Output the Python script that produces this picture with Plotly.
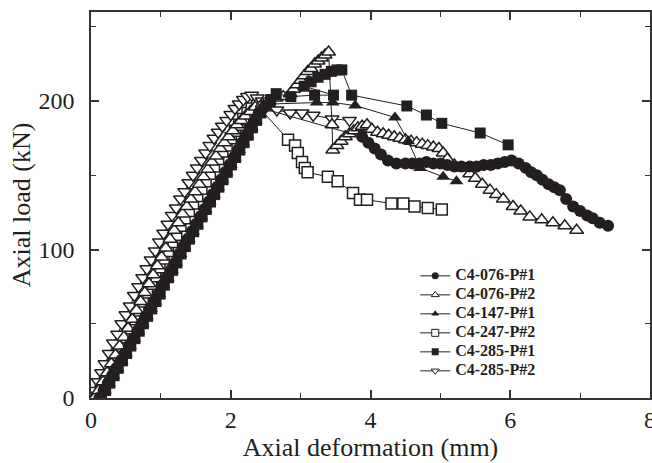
import plotly.graph_objects as go

# ---- data ----
# C4-076-P#1 (filled circles)
c1_x = [0.12,0.18,0.24,0.30,0.36,0.42,0.48,0.54,0.60,0.66,0.72,0.78,0.84,0.90,0.96,1.02,1.08,1.14,1.20,1.26,1.32,1.38,1.44,1.50,1.56,1.62,1.68,1.74,1.80,1.86,1.92,1.98,2.04,2.10,2.16,2.22,2.28,2.34,2.40,2.46,
        3.88,3.97,4.06,4.15,4.25,4.37,4.50,4.60,4.70,4.80,4.90,5.00,5.10,5.20,5.30,5.42,5.52,5.62,5.72,5.82,5.92,6.02,6.12,6.22,6.30,6.38,6.46,6.55,6.63,6.71,6.80,6.90,7.00,7.10,7.18,7.28,7.40]
c1_y = [0,5,10,15,20,25,30,35,40,45,50,55,60,65,70,76,81,86,91,97,102,107,112,117,122,127,132,137,142,147,152,157,162,167,172,177,182,187,192,195,
        176,172,168,164,160,158,158,158,158,159,158,158,157,156,156,156,156,157,157,158,159,160,158,155,152,150,147,144,142,140,134,129,126,123,121,118,116]

# C4-076-P#2 (open triangles)
c2_x = [0.05,0.11,0.17,0.23,0.29,0.35,0.41,0.47,0.53,0.59,0.65,0.71,0.77,0.83,0.89,0.95,1.01,1.07,1.13,1.19,1.25,1.31,1.37,1.43,1.49,1.55,1.61,1.67,1.73,1.79,1.85,1.91,1.97,2.03,2.09,2.15,2.21,2.28,2.35,2.45,2.55,2.65,2.75,
        2.85,2.90,2.95,3.00,3.05,3.10,3.15,3.20,3.25,3.30,3.35,3.40,3.45,3.46,3.52,3.58,3.64,3.70,3.76,3.82,3.88,3.95,4.02,4.10,4.18,4.26,4.34,4.42,4.50,4.58,4.66,4.74,4.82,4.90,4.98,5.04,5.10,5.20,5.30,5.42,5.50,5.60,5.71,5.80,5.90,6.04,6.15,6.28,6.45,6.61,6.78,6.95]
c2_y = [0,5,11,17,23,29,35,41,47,53,59,65,71,77,83,89,95,101,107,113,118,124,129,134,139,144,149,154,159,163,168,172,176,180,184,187,190,193,196,198,200,202,203,
        205,208,211,214,217,220,222,225,227,229,231,233,184,167,170,173,176,178,180,182,183,184,181,179,178,177,176,175,174,173,172,171,170,169,168,165,161,157,155,151,148,144,140,137,134,129,126,122,120,118,116,113]

# C4-147-P#1 (filled triangles)
c3_x = [0.14,0.20,0.26,0.32,0.38,0.44,0.50,0.56,0.62,0.68,0.74,0.80,0.86,0.92,0.98,1.04,1.10,1.16,1.22,1.28,1.34,1.40,1.46,1.52,1.58,1.64,1.70,1.76,1.82,1.88,1.94,2.00,2.06,2.12,2.18,2.24,2.30,2.36,2.42,2.49,2.56,
        3.23,3.46,3.78,4.35,4.54,4.71,5.04,5.23]
c3_y = [0,5,10,15,20,25,30,35,40,45,50,55,60,65,70,76,81,86,91,97,102,107,112,117,122,127,132,137,142,147,152,157,162,167,172,177,182,187,191,195,198,
        199,199,197,189,173,155,149,146]

# C4-247-P#2 (open squares)
c4_x = [0.08,0.14,0.20,0.26,0.32,0.38,0.44,0.50,0.56,0.62,0.68,0.74,0.80,0.86,0.92,0.98,1.04,1.10,1.16,1.22,1.28,1.34,1.40,1.46,1.52,1.58,1.64,1.70,1.76,1.82,1.88,1.94,2.00,2.06,2.12,2.18,2.24,2.30,2.38,
        2.82,2.92,2.96,3.02,3.06,3.10,3.39,3.53,3.75,3.85,3.95,4.30,4.47,4.63,4.82,5.02]
c4_y = [0,5,11,17,23,29,35,41,47,53,59,65,71,77,82,88,94,99,105,110,116,121,126,131,136,141,146,151,156,161,166,170,175,180,184,188,192,195,197,
        174,170,165,159,155,152,149,146,138,133.5,133.5,131,131,129,128,127]

# C4-285-P#1 (filled squares)
c5_x = [0.15,0.21,0.27,0.33,0.39,0.45,0.51,0.57,0.63,0.69,0.75,0.81,0.87,0.93,0.99,1.05,1.11,1.17,1.23,1.29,1.35,1.41,1.47,1.53,1.59,1.65,1.71,1.77,1.83,1.89,1.95,2.01,2.07,2.13,2.19,2.25,2.31,2.37,2.43,2.50,2.57,2.65,
        2.86,3.20,3.47,3.05,3.15,3.25,3.35,3.44,3.52,3.59,3.73,4.52,4.80,5.02,5.57,5.97]
c5_y = [0,5,10,15,20,25,30,35,40,45,50,55,60,65,70,76,81,86,91,97,102,107,112,117,122,127,132,137,142,147,152,157,162,167,172,177,182,187,192,197,201,205,
        203,204,204,210,213,216,218,220,221,221,204,196.7,190.6,185,178.5,170.5]

# C4-285-P#2 (open down-triangles)
c6_x = [0.00,0.05,0.10,0.15,0.20,0.26,0.32,0.38,0.44,0.50,0.56,0.62,0.68,0.74,0.80,0.86,0.92,0.98,1.04,1.10,1.16,1.22,1.28,1.34,1.40,1.46,1.52,1.58,1.64,1.70,1.76,1.82,1.88,1.94,2.00,2.06,2.12,2.18,2.24,2.30,2.38,2.45,
        2.66,2.85,3.02,3.18,3.45,3.70]
c6_y = [0,5,11,17,23,30,37,43,50,56,62,69,75,81,87,93,99,105,111,117,123,128,134,139,145,150,155,160,165,170,175,179,183,187,191,195,198,201,203,204,202,200,
        194,192,192,190.5,188,187]

names = ["C4-076-P#1", "C4-076-P#2", "C4-147-P#1", "C4-247-P#2", "C4-285-P#1", "C4-285-P#2"]
xs = [c1_x, c2_x, c3_x, c4_x, c5_x, c6_x]
ys = [c1_y, c2_y, c3_y, c4_y, c5_y, c6_y]
symbols = ["circle", "triangle-up-open", "triangle-up", "square-open", "square", "triangle-down-open"]
sizes = [12, 12, 12, 11, 11, 12]
leg_sizes = [7, 7, 7, 7, 7, 7]

INK = "#231f20"
fig = go.Figure()
order = [3, 5, 1, 0, 2, 4]
for i in order:
    sym = symbols[i]
    hollow = sym.endswith("-open")
    base = sym.replace("-open", "")
    fig.add_trace(go.Scatter(
        x=xs[i], y=ys[i], mode="lines+markers", showlegend=False,
        line=dict(color=INK, width=1),
        marker=dict(symbol=base, size=sizes[i],
                    color="white" if hollow else INK,
                    line=dict(color=INK, width=1.5 if hollow else 0)),
    ))
for i in range(6):
    sym = symbols[i]
    hollow = sym.endswith("-open")
    base = sym.replace("-open", "")
    fig.add_trace(go.Scatter(
        x=[None], y=[None], mode="lines+markers",
        name='<span style="font-size:16px">' + names[i] + '</span>',
        line=dict(color=INK, width=1),
        marker=dict(symbol=base, size=leg_sizes[i],
                    color="white" if hollow else INK,
                    line=dict(color=INK, width=1 if hollow else 0)),
    ))

FONT = "Liberation Serif"
axis_common = dict(
    showline=True, linecolor="#333333", linewidth=1.5, mirror="ticks",
    ticks="inside", tickcolor="#333333", tickwidth=1.5,
    showgrid=False, zeroline=False, automargin=False,
    tickfont=dict(family=FONT, size=24, color=INK),
    ticklabeloverflow="allow",
    minor=dict(ticks="inside", ticklen=5, tickcolor="#333333", tickwidth=1.2, showgrid=False),
)
fig.update_layout(
    width=652, height=463,
    margin=dict(l=91, r=2, t=12, b=65),
    paper_bgcolor="white", plot_bgcolor="white",
    hovermode=False,
    font=dict(family=FONT, color=INK),
    xaxis=dict(range=[0, 8], dtick=2, ticklen=8, ticklabelstandoff=-1,
               title=dict(text="Axial deformation (mm)", font=dict(family=FONT, size=26, color=INK), standoff=6),
               minor_dtick=1, **axis_common),
    yaxis=dict(range=[0, 260], dtick=100, ticklen=8, ticklabelstandoff=10,
               title=dict(text="Axial load (kN)", font=dict(family=FONT, size=26, color=INK), standoff=0),
               minor_dtick=50, **axis_common),
    legend=dict(x=0.580, y=0.354, xanchor="left", yanchor="top",
                font=dict(family=FONT, size=11, color=INK, weight="bold"),
                bgcolor="rgba(0,0,0,0)", borderwidth=0, itemwidth=30),
)
# remove the default 8px page margin so the 652x463 figure fills the window exactly
fig.write_html("out.html", config={"displayModeBar": False},
               post_script="document.body.style.margin='0';document.documentElement.style.overflow='hidden';")
